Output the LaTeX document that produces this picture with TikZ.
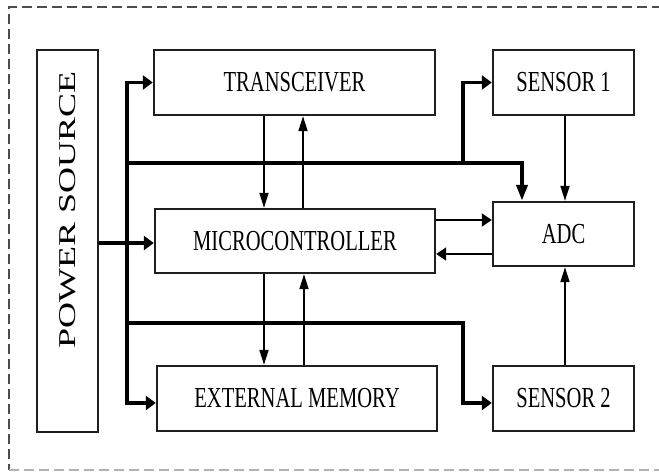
\documentclass[tikz,border=0pt]{standalone}
\usepackage{fontspec}
\setmainfont{Liberation Serif}
\usetikzlibrary{arrows.meta,calc}

% condensed upright label and stretched vertical label
\newcommand{\blklabel}[1]{\scalebox{0.71}[1]{\fontsize{29}{29}\selectfont #1}}
\newcommand{\vertlabel}[1]{\rotatebox{90}{\hspace*{62pt}\scalebox{1}[0.67]{\fontsize{36}{36}\selectfont #1}}}

\tikzset{
  blk/.style={draw=black!88, line width=2.4pt, inner sep=0pt, fill=white},
  bus/.style={line width=3.8pt, black},
  sig/.style={line width=1.8pt, black},
  htip/.style={-{Triangle[length=10pt,width=13pt]}},
  vtip/.style={-{Triangle[length=15pt,width=9pt]}},
  hbus/.style={-{Triangle[length=10pt,width=14pt]}},
  vbus/.style={-{Triangle[length=16pt,width=11pt]}},
  frame/.style={line width=2pt, black!70, dash pattern=on 10pt off 5pt}
}

\begin{document}
\begin{tikzpicture}[x=1pt,y=-1pt]
\useasboundingbox (0,0) rectangle (659,472);

% outer dashed enclosure
\draw[frame] (662,7) -- (9,7) -- (9,470);
\draw[frame, black!30] (9,470) -- (662,470);

% blocks
\node[blk, minimum width=61pt, minimum height=382pt] (pwr) at (67.5,241) {\vertlabel{POWER SOURCE}};
\node[blk, minimum width=281pt, minimum height=65pt] (trx) at (294.5,82.5) {\blklabel{TRANSCEIVER}};
\node[blk, minimum width=280pt, minimum height=64pt] (mcu) at (295,241) {\blklabel{MICROCONTROLLER}};
\node[blk, minimum width=280pt, minimum height=65pt] (mem) at (297,398.5) {\blklabel{EXTERNAL MEMORY}};
\node[blk, minimum width=141pt, minimum height=65pt] (s1) at (563.5,82.5) {\blklabel{SENSOR 1}};
\node[blk, minimum width=141pt, minimum height=64pt] (adc) at (563.5,234) {\blklabel{ADC}};
\node[blk, minimum width=141pt, minimum height=65pt] (s2) at (563.5,398.5) {\blklabel{SENSOR 2}};

% power bus junctions
\coordinate (trunk) at (127,241);
\coordinate (jtop) at (127,163);
\coordinate (jbot) at (127,323);
\coordinate (ftop) at (463,163);
\coordinate (fbot) at (463,323);
\coordinate (atop) at (522,163);

% power distribution
\draw[bus, {Triangle[length=10pt,width=14pt]}-{Triangle[length=10pt,width=14pt]}]
  (trx.west) -| (trunk) |- ([yshift=-4.5pt]mem.west);
\draw[bus, hbus] ([yshift=-2pt]pwr.east) -- ([yshift=-2pt]mcu.west);
\draw[bus, vbus] (jtop) -- (atop) -- (atop |- adc.north);
\draw[bus, hbus] (ftop) |- (s1.west);
\draw[bus, hbus] (jbot) -- (fbot) |- ([yshift=-4.5pt]s2.west);

% data paths
\draw[sig, vtip] ([xshift=-30.5pt]trx.south) -- ([xshift=-30.5pt]trx.south |- mcu.north);
\draw[sig, vtip] ([xshift=8.5pt]mcu.north -| trx.south) -- ([xshift=8.5pt]trx.south);
\draw[sig, vtip] ([xshift=-31pt]mcu.south) -- ([xshift=-31pt]mcu.south |- mem.north);
\draw[sig, vtip] ([xshift=9pt]mem.north -| mcu.south) -- ([xshift=9pt]mcu.south);
\draw[sig, htip] ([yshift=21pt]mcu.east) -- ([yshift=21pt]mcu.east -| adc.west);
\draw[sig, htip] ([yshift=-20pt]adc.west) -- ([yshift=-20pt]adc.west -| mcu.east);
\draw[sig, vtip] ([xshift=1.5pt]s1.south) -- ([xshift=1.5pt]adc.north);
\draw[sig, vtip] ([xshift=1.5pt]s2.north) -- ([xshift=1.5pt]adc.south);
\end{tikzpicture}
\end{document}
